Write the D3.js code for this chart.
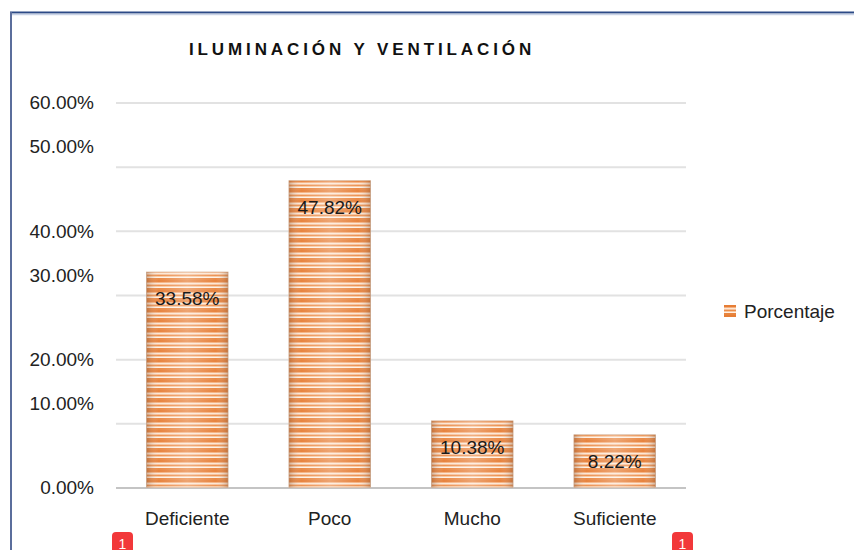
<!DOCTYPE html>
<html>
<head>
<meta charset="utf-8">
<script src="https://cdn.jsdelivr.net/npm/d3@7"></script>
<style>
  body { margin: 0; background: #fff; }
  svg text { font-family: "Liberation Sans", Arial, sans-serif; }
</style>
</head>
<body>
<div id="chart"></div>
<script>
const categories = ['Deficiente', 'Poco', 'Mucho', 'Suficiente'];
const values = [33.58, 47.82, 10.38, 8.22];
const yTicks = [0, 10, 20, 30, 40, 50, 60];
const seriesName = 'Porcentaje';
const title = 'ILUMINACIÓN Y VENTILACIÓN';

const config = {
  'width': 854,
  'height': 550,
  'plot': { 'left': 116, 'right': 686, 'top': 102.5, 'bottom': 487.5 }
}

const svg = d3.select('#chart').append('svg')
  .attr('width', config.width)
  .attr('height', config.height);

const defs = svg.append('defs');

// horizontal stripe fill for bars
const stripes = defs.append('pattern')
  .attr('id', 'stripes')
  .attr('patternUnits', 'userSpaceOnUse')
  .attr('width', 10)
  .attr('height', 10);
[
  [0, 2, '#e67d35'], [2, 1, '#f4b080'], [3, 1.5, '#fde6d2'],
  [4.5, 1.5, '#ec8d4a'], [6, 1, '#f7c7a0'], [7, 1, '#fff0e4'], [8, 2, '#e8843e']
].forEach(s => {
  stripes.append('rect').attr('x', 0).attr('y', s[0]).attr('width', 10).attr('height', s[1]).attr('fill', s[2]);
});

// edge shading across the bar
const shade = defs.append('linearGradient').attr('id', 'shade').attr('x1', 0).attr('x2', 1);
shade.append('stop').attr('offset', '0%').attr('stop-color', '#8a5a3a').attr('stop-opacity', 0.4);
shade.append('stop').attr('offset', '15%').attr('stop-color', '#fff').attr('stop-opacity', 0.05);
shade.append('stop').attr('offset', '50%').attr('stop-color', '#fff').attr('stop-opacity', 0.3);
shade.append('stop').attr('offset', '85%').attr('stop-color', '#fff').attr('stop-opacity', 0.05);
shade.append('stop').attr('offset', '100%').attr('stop-color', '#8a5a3a').attr('stop-opacity', 0.4);

// frame
svg.append('line').attr('x1', 10).attr('x2', 854).attr('y1', 12.5).attr('y2', 12.5)
  .attr('stroke', '#2c4a86').attr('stroke-width', 2);
svg.append('line').attr('x1', 10).attr('x2', 854).attr('y1', 14.5).attr('y2', 14.5)
  .attr('stroke', '#c9d3e6').attr('stroke-width', 1.5);
svg.append('line').attr('x1', 11).attr('x2', 11).attr('y1', 12).attr('y2', 550)
  .attr('stroke', '#5b6e9c').attr('stroke-width', 2);

svg.append('text')
  .attr('x', 362)
  .attr('y', 55)
  .attr('text-anchor', 'middle')
  .attr('font-size', 17)
  .attr('font-weight', 'bold')
  .attr('letter-spacing', 3.9)
  .attr('fill', '#111')
  .text(title);

const x = d3.scaleBand()
  .domain(categories)
  .range([config.plot.left, config.plot.right])
  .paddingInner(0.427)
  .paddingOuter(0.2135);

const y = d3.scaleLinear()
  .domain([0, 60])
  .range([config.plot.bottom, config.plot.top]);

const yAxis = d3.axisLeft(y)
  .tickValues(yTicks)
  .tickSize(-(config.plot.right - config.plot.left))
  .tickPadding(22)
  .tickFormat(d => d.toFixed(2) + '%');

const gy = svg.append('g')
  .attr('transform', `translate(${config.plot.left},0)`)
  .call(yAxis);
gy.select('.domain').remove();
gy.selectAll('.tick line')
  .attr('stroke', d => d == 0 ? '#c4c4c4' : '#e2e2e2')
  .attr('stroke-width', 2);
gy.selectAll('.tick text')
  .attr('font-size', 19)
  .attr('fill', '#222')
  .attr('dy', (d) => (d / 10) % 2 == 1 ? '-0.72em' : '0.34em');

const bar = svg.selectAll('g.bar')
  .data(values)
  .join('g')
    .attr('class', 'bar');

bar.append('rect')
  .attr('x', (d, i) => x(categories[i]))
  .attr('y', d => y(d))
  .attr('width', x.bandwidth())
  .attr('height', d => y(0) - y(d))
  .attr('fill', 'url(#stripes)')
  .attr('stroke', '#d9b79e')
  .attr('stroke-width', 0.8);

bar.append('rect')
  .attr('x', (d, i) => x(categories[i]))
  .attr('y', d => y(d))
  .attr('width', x.bandwidth())
  .attr('height', d => y(0) - y(d))
  .attr('fill', 'url(#shade)');

bar.append('text')
  .attr('x', (d, i) => x(categories[i]) + x.bandwidth() / 2)
  .attr('y', d => y(d) + 33)
  .attr('text-anchor', 'middle')
  .attr('font-size', 19)
  .attr('fill', '#1a1a1a')
  .text(d => d.toFixed(2) + '%');

svg.selectAll('text.cat')
  .data(categories)
  .join('text')
    .attr('class', 'cat')
    .attr('x', d => x(d) + x.bandwidth() / 2)
    .attr('y', 525)
    .attr('text-anchor', 'middle')
    .attr('font-size', 19)
    .attr('fill', '#222')
    .text(d => d);

// legend
const legend = svg.append('g').attr('transform', 'translate(724,305)');
legend.append('rect').attr('width', 12).attr('height', 12).attr('fill', 'url(#stripes)');
legend.append('text').attr('x', 20).attr('y', 13).attr('font-size', 19).attr('fill', '#222').text(seriesName);

// red markers at bottom
[122.5, 682.5].forEach(cx => {
  const m = svg.append('g').attr('transform', `translate(${cx - 10.5},532)`);
  m.append('rect').attr('width', 21).attr('height', 26).attr('rx', 4).attr('fill', '#f2383a');
  m.append('text').attr('x', 10.5).attr('y', 16.5).attr('text-anchor', 'middle')
    .attr('font-size', 14).attr('fill', '#fff').text('1');
});
</script>
</body>
</html>
